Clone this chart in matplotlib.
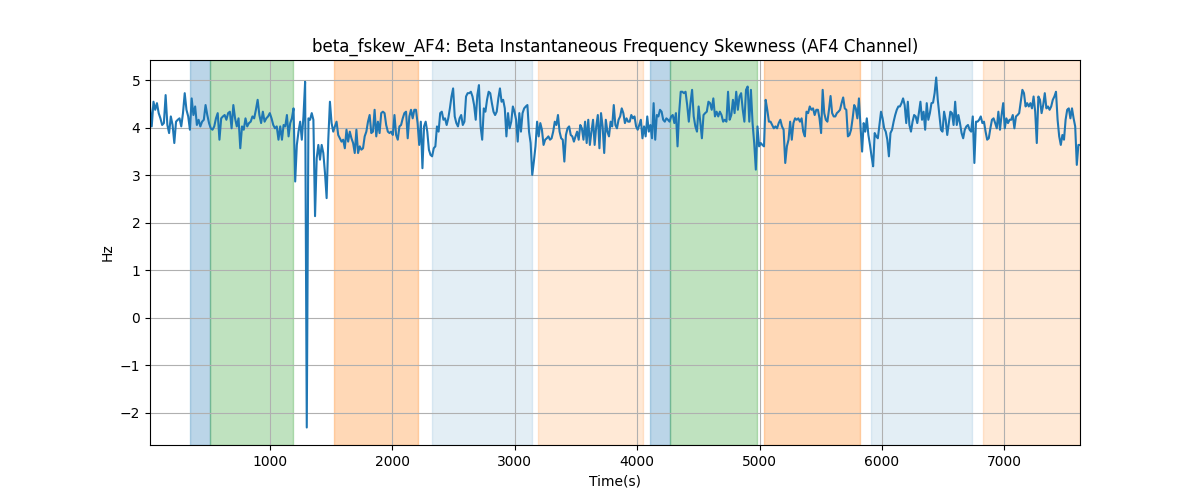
import numpy as np
import matplotlib
matplotlib.use('Agg')
from matplotlib import pyplot as plt

# signal in seven consecutive chunks
seg_edges = [20, 1098, 2193, 3288, 4382, 5477, 6572, 7618]

seg1 = [4.45, 4.03, 4.55, 4.38, 4.52, 4.31, 4.20, 4.06, 4.10, 4.69, 4.06, 3.89, 4.24, 4.06, 3.68,
        4.13, 4.17, 4.20, 4.03, 4.31, 4.73, 4.38, 4.24, 3.96, 4.62, 4.27, 4.45, 4.06, 4.17, 4.03,
        4.13, 4.17, 4.48, 4.27, 4.10, 3.99, 3.96, 4.03, 4.20, 4.31, 3.75, 4.20, 4.24, 4.27, 4.17,
        4.31, 4.34, 3.99, 4.48, 4.20, 4.03, 4.20, 3.57, 4.03, 3.96, 4.20, 4.03, 4.10, 4.13, 4.24,
        4.20, 4.38, 4.59, 4.27, 4.10, 4.34, 4.13, 4.20, 4.24, 4.31, 4.20, 4.06, 3.99, 4.03, 3.75,
        4.03]
seg2 = [3.75, 4.06, 4.03, 4.27, 3.82, 4.10, 4.20, 4.41, 2.87, 3.64, 3.92, 4.13, 3.75, 4.24, 4.97,
        -2.31, 4.20, 4.17, 4.31, 4.17, 2.14, 3.36, 3.64, 3.33, 3.64, 3.47, 3.05, 2.52, 3.75, 4.55,
        4.10, 3.92, 4.03, 4.13, 3.85, 3.78, 3.71, 3.75, 3.57, 3.96, 3.71, 3.92, 3.78, 3.68, 3.47,
        3.96, 3.47, 3.61, 3.54, 3.57, 3.82, 3.92, 4.13, 4.27, 3.89, 3.92, 4.38, 3.82, 4.13, 3.89,
        4.31, 4.34, 4.31, 4.06, 3.92, 3.89, 3.92, 3.85, 4.27, 3.85, 3.75, 4.03, 4.06, 4.20, 4.31,
        4.34, 3.78, 4.24, 4.38, 4.20, 4.38]
seg3 = [4.38, 4.10, 3.64, 4.13, 3.15, 4.03, 4.13, 3.92, 3.54, 3.43, 3.40, 3.57, 3.61, 4.03, 3.92,
        4.31, 4.34, 4.17, 4.20, 4.06, 4.20, 4.41, 4.66, 4.83, 4.24, 4.10, 4.03, 4.20, 4.27, 4.06,
        4.13, 4.66, 4.73, 4.73, 4.76, 4.66, 4.48, 4.17, 4.69, 4.90, 4.03, 3.75, 4.41, 4.34, 4.59,
        4.76, 4.73, 4.52, 4.34, 4.27, 4.34, 4.62, 4.83, 4.55, 4.59, 4.41, 3.82, 4.31, 3.99, 4.13,
        4.45, 4.34, 4.17, 3.71, 4.31, 3.92, 4.31, 4.41, 4.45, 4.48, 3.92, 3.68, 3.01, 3.29, 3.61,
        4.13, 3.82, 4.10, 3.96, 3.64, 3.75, 3.78, 3.82]
seg4 = [3.75, 3.78, 3.92, 4.13, 4.06, 4.27, 3.92, 3.78, 3.75, 3.29, 3.85, 3.99, 4.03, 3.85, 3.82,
        3.71, 3.82, 3.92, 3.75, 4.06, 3.99, 3.75, 4.13, 3.68, 4.17, 3.64, 3.92, 4.17, 3.64, 4.03,
        4.27, 3.57, 4.31, 4.03, 3.47, 4.17, 3.92, 3.82, 4.13, 4.03, 4.48, 4.06, 3.99, 4.17, 4.24,
        4.41, 4.31, 4.10, 4.20, 4.13, 4.13, 4.27, 4.20, 4.24, 4.03, 3.96, 4.06, 4.17, 3.78, 4.03,
        3.82, 4.24, 3.92, 4.06, 3.78, 4.52, 3.75, 4.27, 4.24, 4.38, 4.34, 4.17, 4.13, 4.20, 4.17,
        4.13, 4.24, 4.27, 4.10, 4.31, 3.61, 4.31, 4.76, 4.76]
seg5 = [4.73, 4.76, 4.48, 4.13, 4.52, 4.80, 4.24, 4.03, 3.92, 4.45, 4.13, 3.78, 4.27, 4.31, 4.34,
        4.55, 4.52, 4.38, 4.62, 4.24, 4.34, 4.24, 4.34, 4.27, 4.13, 4.17, 4.13, 4.76, 4.17, 4.27,
        4.59, 4.31, 4.76, 4.38, 4.66, 4.73, 4.38, 4.13, 4.80, 4.87, 4.13, 4.80, 4.10, 3.68, 3.12,
        4.03, 3.61, 3.68, 3.64, 3.61, 4.59, 4.38, 4.13, 4.13, 4.06, 3.99, 4.03, 3.99, 4.10, 4.17,
        4.03, 3.96, 3.26, 3.61, 3.75, 4.13, 3.75, 4.10, 4.20, 4.17, 4.20, 4.13, 4.20, 3.92, 3.82,
        4.34, 4.31, 4.45, 4.38, 4.41, 4.27, 4.38]
seg6 = [4.38, 4.20, 3.89, 4.80, 4.31, 4.17, 4.13, 4.38, 4.67, 4.31, 4.24, 4.24, 4.31, 4.34, 4.38,
        4.52, 4.64, 4.41, 4.38, 3.82, 3.85, 3.96, 4.20, 4.48, 4.41, 4.20, 4.62, 4.03, 3.50, 4.10,
        3.92, 4.20, 3.85, 3.64, 3.40, 3.19, 3.89, 3.82, 3.78, 4.06, 4.34, 4.20, 3.99, 3.92, 3.75,
        3.40, 3.89, 3.96, 4.13, 4.27, 4.38, 4.45, 4.45, 4.52, 4.62, 4.48, 4.10, 4.55, 4.06, 3.92,
        4.13, 4.27, 4.24, 4.10, 4.31, 4.55, 4.17, 4.34, 3.96, 4.52, 4.17, 4.31, 4.52, 4.53, 4.73,
        5.06, 4.59, 4.27, 3.96, 3.92, 4.34, 4.17, 3.85, 4.10, 4.34]
seg7 = [4.31, 4.06, 4.55, 4.06, 4.27, 4.10, 3.89, 3.78, 3.96, 4.03, 4.06, 3.96, 3.92, 4.24, 3.26,
        4.13, 4.13, 4.17, 4.24, 4.10, 4.13, 3.92, 3.75, 3.78, 3.99, 4.17, 4.20, 4.10, 3.99, 4.34,
        3.96, 4.27, 4.52, 3.99, 4.20, 4.10, 4.17, 4.17, 4.27, 3.99, 4.24, 4.27, 4.31, 4.55, 4.80,
        4.73, 4.45, 4.52, 4.45, 4.52, 4.41, 4.66, 4.34, 3.68, 4.66, 4.59, 4.31, 4.48, 4.73, 4.41,
        4.45, 4.38, 4.45, 4.59, 4.66, 4.76, 4.17, 3.82, 3.64, 3.85, 3.75, 4.17, 4.38, 4.41, 4.20,
        4.41, 4.20, 4.03, 3.22, 3.64, 3.64]

# shaded intervals (start, end, color, alpha)
span_starts = [346, 510, 1523, 2323, 3190, 4105, 4268, 5036, 5910, 6826]
span_ends = [510, 1188, 2210, 3140, 4048, 4268, 4979, 5820, 6735, 7618]
span_colors = ['tab:blue', 'tab:green', 'tab:orange', 'tab:blue', 'tab:orange',
               'tab:blue', 'tab:green', 'tab:orange', 'tab:blue', 'tab:orange']
span_alphas = [0.3, 0.3, 0.3, 0.12, 0.17, 0.3, 0.3, 0.3, 0.12, 0.17]


def main():
    segs = [seg1, seg2, seg3, seg4, seg5, seg6, seg7]
    t_parts = []
    for i, seg in enumerate(segs):
        last = i == len(segs) - 1
        t_parts.append(np.linspace(seg_edges[i], seg_edges[i + 1], len(seg), endpoint=last))
    t = np.concatenate(t_parts)
    y = np.concatenate([np.array(s) for s in segs])

    fig, ax = plt.subplots(figsize=(12, 5), dpi=100)
    for s, e, c, a in zip(span_starts, span_ends, span_colors, span_alphas):
        ax.axvspan(s, e, color=c, alpha=a)
    ax.plot(t, y, color='tab:blue', linewidth=1.5)
    ax.set_xlim(t[0], t[-1])
    ax.set_title('beta_fskew_AF4: Beta Instantaneous Frequency Skewness (AF4 Channel)')
    ax.set_xlabel('Time(s)')
    ax.set_ylabel('Hz')
    ax.grid(True)
    fig.savefig('out.png')


if __name__ == '__main__':
    main()
